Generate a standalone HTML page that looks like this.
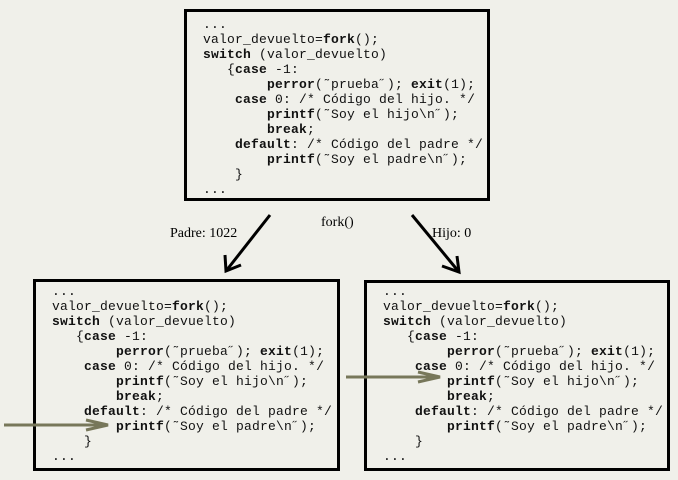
<!DOCTYPE html>
<html><head><meta charset="utf-8"><style>
body{margin:0;width:678px;height:480px;background:#f0f0ea;position:relative;overflow:hidden}
.box{position:absolute;border:3px solid #000;box-sizing:border-box}
pre{position:absolute;margin:0;font-family:"Liberation Mono",monospace;font-size:13px;line-height:15px;letter-spacing:0.2px;color:#111}
b{font-weight:bold}
.lbl{position:absolute;font-family:"Liberation Serif",serif;font-size:14px;color:#000}
</style></head><body>
<div class="box" style="left:184px;top:9px;width:306px;height:192px"></div>
<div class="box" style="left:33px;top:279px;width:307px;height:192px"></div>
<div class="box" style="left:364px;top:280px;width:306px;height:191px"></div>
<pre style="left:203px;top:17px">...
valor_devuelto=<b>fork</b>();
<b>switch</b> (valor_devuelto)
   {<b>case</b> -1:
        <b>perror</b>(˜prueba˝); <b>exit</b>(1);
    <b>case</b> 0: /* Código del hijo. */
        <b>printf</b>(˜Soy el hijo\n˝);
        <b>break</b>;
    <b>default</b>: /* Código del padre */
        <b>printf</b>(˜Soy el padre\n˝);
    }
...</pre>
<pre style="left:52px;top:284px">...
valor_devuelto=<b>fork</b>();
<b>switch</b> (valor_devuelto)
   {<b>case</b> -1:
        <b>perror</b>(˜prueba˝); <b>exit</b>(1);
    <b>case</b> 0: /* Código del hijo. */
        <b>printf</b>(˜Soy el hijo\n˝);
        <b>break</b>;
    <b>default</b>: /* Código del padre */
        <b>printf</b>(˜Soy el padre\n˝);
    }
...</pre>
<pre style="left:383px;top:284px">...
valor_devuelto=<b>fork</b>();
<b>switch</b> (valor_devuelto)
   {<b>case</b> -1:
        <b>perror</b>(˜prueba˝); <b>exit</b>(1);
    <b>case</b> 0: /* Código del hijo. */
        <b>printf</b>(˜Soy el hijo\n˝);
        <b>break</b>;
    <b>default</b>: /* Código del padre */
        <b>printf</b>(˜Soy el padre\n˝);
    }
...</pre>
<div class="lbl" style="left:170px;top:226px">Padre: 1022</div>
<div class="lbl" style="left:321px;top:215px">fork()</div>
<div class="lbl" style="left:432px;top:226px">Hijo: 0</div>
<svg width="678" height="480" style="position:absolute;left:0;top:0">
<g stroke="#000" stroke-width="3" fill="none">
<line x1="270" y1="215" x2="226" y2="271"/>
<polyline points="225,255 226,271 241,265"/>
<line x1="412" y1="215" x2="459" y2="272"/>
<polyline points="442,266 459,272 457,256"/>
</g>
<g stroke="#77775a" stroke-width="3" fill="none">
<line x1="4" y1="425" x2="108" y2="425"/>
<polyline points="86,420 108,425 86,430"/>
<line x1="346" y1="377" x2="440" y2="377"/>
<polyline points="418,372 440,377 418,382"/>
</g>
</svg>
</body></html>
